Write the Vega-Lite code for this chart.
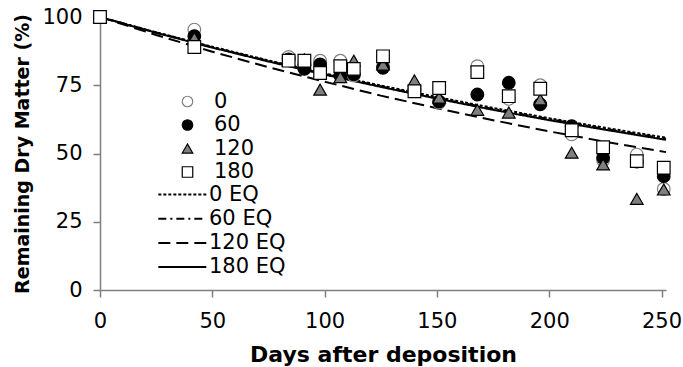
{
  "$schema": "https://vega.github.io/schema/vega-lite/v6.json",
  "width": 566,
  "height": 273,
  "autosize": {"type": "none"},
  "padding": {"left": 100, "top": 17, "right": 17, "bottom": 77},
  "background": "white",
  "config": {
    "view": {"stroke": null},
    "axis": {
      "grid": false,
      "domainColor": "#7f7f7f",
      "domainWidth": 1.5,
      "tickColor": "#7f7f7f",
      "tickWidth": 1.5,
      "tickSize": 7,
      "labelFont": "DejaVu Sans",
      "labelFontSize": 21,
      "labelColor": "black",
      "titleFont": "DejaVu Sans",
      "titleFontWeight": "bold",
      "titleColor": "black"
    }
  },
  "datasets": {
    "eq": [
      {"eq": "0 EQ", "day": 0, "value": 100}, {"eq": "0 EQ", "day": 25, "value": 94.4}, {"eq": "0 EQ", "day": 50, "value": 89.1}, {"eq": "0 EQ", "day": 75, "value": 84.1}, {"eq": "0 EQ", "day": 100, "value": 79.3}, {"eq": "0 EQ", "day": 125, "value": 74.9}, {"eq": "0 EQ", "day": 150, "value": 70.7}, {"eq": "0 EQ", "day": 175, "value": 66.7}, {"eq": "0 EQ", "day": 200, "value": 62.9}, {"eq": "0 EQ", "day": 225, "value": 59.4}, {"eq": "0 EQ", "day": 252, "value": 55.8},
      {"eq": "60 EQ", "day": 0, "value": 100}, {"eq": "60 EQ", "day": 25, "value": 94.3}, {"eq": "60 EQ", "day": 50, "value": 88.9}, {"eq": "60 EQ", "day": 75, "value": 83.9}, {"eq": "60 EQ", "day": 100, "value": 79.1}, {"eq": "60 EQ", "day": 125, "value": 74.6}, {"eq": "60 EQ", "day": 150, "value": 70.3}, {"eq": "60 EQ", "day": 175, "value": 66.3}, {"eq": "60 EQ", "day": 200, "value": 62.6}, {"eq": "60 EQ", "day": 225, "value": 59.0}, {"eq": "60 EQ", "day": 252, "value": 55.4},
      {"eq": "120 EQ", "day": 0, "value": 100}, {"eq": "120 EQ", "day": 25, "value": 93.4}, {"eq": "120 EQ", "day": 50, "value": 87.3}, {"eq": "120 EQ", "day": 75, "value": 81.6}, {"eq": "120 EQ", "day": 100, "value": 76.3}, {"eq": "120 EQ", "day": 125, "value": 71.2}, {"eq": "120 EQ", "day": 150, "value": 66.6}, {"eq": "120 EQ", "day": 175, "value": 62.2}, {"eq": "120 EQ", "day": 200, "value": 58.1}, {"eq": "120 EQ", "day": 225, "value": 54.3}, {"eq": "120 EQ", "day": 252, "value": 50.5},
      {"eq": "180 EQ", "day": 0, "value": 100}, {"eq": "180 EQ", "day": 25, "value": 94.2}, {"eq": "180 EQ", "day": 50, "value": 88.8}, {"eq": "180 EQ", "day": 75, "value": 83.7}, {"eq": "180 EQ", "day": 100, "value": 78.9}, {"eq": "180 EQ", "day": 125, "value": 74.4}, {"eq": "180 EQ", "day": 150, "value": 70.1}, {"eq": "180 EQ", "day": 175, "value": 66.0}, {"eq": "180 EQ", "day": 200, "value": 62.2}, {"eq": "180 EQ", "day": 225, "value": 58.7}, {"eq": "180 EQ", "day": 252, "value": 55.0}
    ],
    "pts": [
      {"t": "0", "day": 0, "value": 100}, {"t": "0", "day": 42, "value": 95.4}, {"t": "0", "day": 84, "value": 85.4}, {"t": "0", "day": 91, "value": 83}, {"t": "0", "day": 98, "value": 84}, {"t": "0", "day": 107, "value": 84}, {"t": "0", "day": 113, "value": 78.5}, {"t": "0", "day": 126, "value": 82}, {"t": "0", "day": 140, "value": 73}, {"t": "0", "day": 151, "value": 68.6}, {"t": "0", "day": 168, "value": 82}, {"t": "0", "day": 182, "value": 70}, {"t": "0", "day": 196, "value": 75}, {"t": "0", "day": 210, "value": 57}, {"t": "0", "day": 224, "value": 47.5}, {"t": "0", "day": 239, "value": 49.6}, {"t": "0", "day": 251, "value": 37},
      {"t": "60", "day": 0, "value": 100}, {"t": "60", "day": 42, "value": 93}, {"t": "60", "day": 84, "value": 84.5}, {"t": "60", "day": 91, "value": 81}, {"t": "60", "day": 98, "value": 82.6}, {"t": "60", "day": 107, "value": 78.5}, {"t": "60", "day": 113, "value": 79}, {"t": "60", "day": 126, "value": 81.4}, {"t": "60", "day": 140, "value": 73.5}, {"t": "60", "day": 151, "value": 69}, {"t": "60", "day": 168, "value": 71.6}, {"t": "60", "day": 182, "value": 75.9}, {"t": "60", "day": 196, "value": 68}, {"t": "60", "day": 210, "value": 60}, {"t": "60", "day": 224, "value": 48.4}, {"t": "60", "day": 239, "value": 47}, {"t": "60", "day": 251, "value": 41.7},
      {"t": "120", "day": 0, "value": 100}, {"t": "120", "day": 42, "value": 92.3}, {"t": "120", "day": 84, "value": 84}, {"t": "120", "day": 91, "value": 84.5}, {"t": "120", "day": 98, "value": 73.4}, {"t": "120", "day": 107, "value": 78}, {"t": "120", "day": 113, "value": 84}, {"t": "120", "day": 126, "value": 82.6}, {"t": "120", "day": 140, "value": 76.8}, {"t": "120", "day": 151, "value": 70.5}, {"t": "120", "day": 168, "value": 66}, {"t": "120", "day": 182, "value": 65}, {"t": "120", "day": 196, "value": 69.8}, {"t": "120", "day": 210, "value": 50.3}, {"t": "120", "day": 224, "value": 46}, {"t": "120", "day": 239, "value": 33.4}, {"t": "120", "day": 251, "value": 36.8},
      {"t": "180", "day": 0, "value": 100}, {"t": "180", "day": 42, "value": 89}, {"t": "180", "day": 84, "value": 84}, {"t": "180", "day": 91, "value": 84}, {"t": "180", "day": 98, "value": 79.5}, {"t": "180", "day": 107, "value": 82}, {"t": "180", "day": 113, "value": 81}, {"t": "180", "day": 126, "value": 85.6}, {"t": "180", "day": 140, "value": 72.8}, {"t": "180", "day": 151, "value": 74}, {"t": "180", "day": 168, "value": 79.8}, {"t": "180", "day": 182, "value": 71}, {"t": "180", "day": 196, "value": 73.7}, {"t": "180", "day": 210, "value": 58.5}, {"t": "180", "day": 224, "value": 52.3}, {"t": "180", "day": 239, "value": 47.2}, {"t": "180", "day": 251, "value": 44.8}
    ]
  },
  "layer": [
    {
      "data": {"name": "eq"},
      "mark": {"type": "line", "color": "black", "strokeWidth": 2},
      "encoding": {
        "x": {"field": "day", "type": "quantitative", "scale": {"domain": [0, 252], "nice": false}, "axis": {"values": [0, 50, 100, 150, 200, 250], "labelFlush": false, "labelPadding": 13, "titleFontSize": 22, "titlePadding": 13}, "title": "Days after deposition"},
        "y": {"field": "value", "type": "quantitative", "scale": {"domain": [0, 100], "nice": false}, "axis": {"values": [0, 25, 50, 75, 100], "labelPadding": 11, "titleFontSize": 19, "titlePadding": 9}, "title": "Remaining Dry Matter (%)"},
        "strokeDash": {
          "field": "eq", "type": "nominal",
          "scale": {"domain": ["0 EQ", "60 EQ", "120 EQ", "180 EQ"], "range": [[3, 2], [8, 4, 2, 4], [12, 6], [1, 0]]},
          "legend": {"orient": "none", "legendX": 91, "legendY": 167, "title": null, "symbolType": "M-9,0H1", "symbolSize": 92, "symbolStrokeWidth": 2, "symbolStrokeColor": "black", "symbolFillColor": "transparent", "labelFont": "DejaVu Sans", "labelFontSize": 21, "labelColor": "black", "labelOffset": -3, "rowPadding": 2.2, "padding": 0}
        }
      }
    },
    {
      "data": {"name": "pts"},
      "mark": {"type": "point", "filled": true, "size": 160, "strokeWidth": 1.2, "opacity": 1},
      "encoding": {
        "x": {"field": "day", "type": "quantitative"},
        "y": {"field": "value", "type": "quantitative"},
        "shape": {"field": "t", "type": "nominal", "scale": {"domain": ["0", "60", "120", "180"], "range": ["circle", "circle", "triangle-up", "square"]},
          "legend": {"orient": "none", "legendX": 77, "legendY": 74, "title": null, "symbolSize": 110, "symbolStrokeWidth": 1.2, "labelFont": "DejaVu Sans", "labelFontSize": 21, "labelColor": "black", "labelOffset": 16, "rowPadding": 1.5, "padding": 0}},
        "fill": {"field": "t", "type": "nominal", "scale": {"domain": ["0", "60", "120", "180"], "range": ["white", "black", "#7f7f7f", "white"]},
          "legend": {"orient": "none", "legendX": 77, "legendY": 74, "title": null, "symbolSize": 110, "symbolStrokeWidth": 1.2, "labelFont": "DejaVu Sans", "labelFontSize": 21, "labelColor": "black", "labelOffset": 16, "rowPadding": 1.5, "padding": 0}},
        "stroke": {"field": "t", "type": "nominal", "scale": {"domain": ["0", "60", "120", "180"], "range": ["#7f7f7f", "black", "black", "black"]},
          "legend": {"orient": "none", "legendX": 77, "legendY": 74, "title": null, "symbolSize": 110, "symbolStrokeWidth": 1.2, "labelFont": "DejaVu Sans", "labelFontSize": 21, "labelColor": "black", "labelOffset": 16, "rowPadding": 1.5, "padding": 0}}
      }
    }
  ]
}
